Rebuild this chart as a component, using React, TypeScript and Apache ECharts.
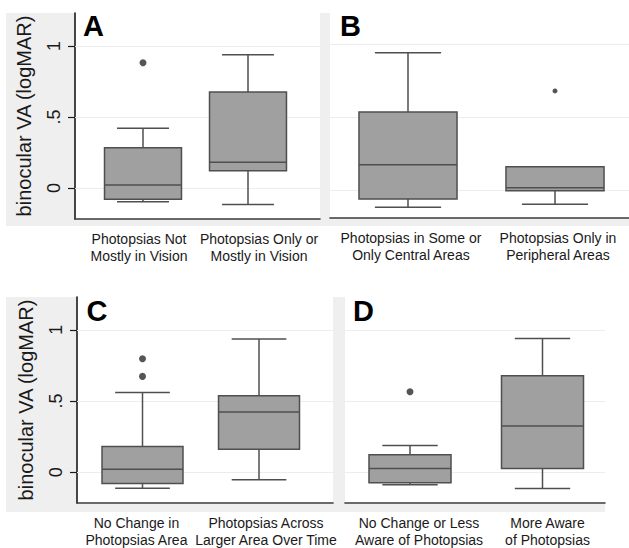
import React, { useEffect, useRef } from "react";
import * as echarts from "echarts";

const FONT = "'Liberation Sans', Arial, Helvetica, sans-serif";

const panelLetters = ["A", "B", "C", "D"];
const categoriesA = ["Photopsias Not\nMostly in Vision", "Photopsias Only or\nMostly in Vision"];
const categoriesB = ["Photopsias in Some or\nOnly Central Areas", "Photopsias Only in\nPeripheral Areas"];
const categoriesC = ["No Change in\nPhotopsias Area", "Photopsias Across\nLarger Area Over Time"];
const categoriesD = ["No Change or Less\nAware of Photopsias", "More Aware\nof Photopsias"];

// [lower whisker, Q1, median, Q3, upper whisker]
const boxesA = [
  [-0.096, -0.08, 0.021, 0.284, 0.42],
  [-0.117, 0.122, 0.181, 0.676, 0.939],
];
const outliersA = [[1, 0.882]];
const boxesB = [
  [-0.119, -0.062, 0.174, 0.535, 0.942],
  [-0.098, -0.005, 0.016, 0.16, 0.16],
];
const outliersB = [[2, 0.68]];
const boxesC = [
  [-0.114, -0.079, 0.021, 0.18, 0.559],
  [-0.054, 0.161, 0.422, 0.536, 0.935],
];
const outliersC = [
  [1, 0.797],
  [1, 0.673],
];
const boxesD = [
  [-0.089, -0.075, 0.025, 0.123, 0.187],
  [-0.115, 0.025, 0.325, 0.677, 0.94],
];
const outliersD = [[1, 0.565]];

const yTickValues = [0, 0.5, 1];
const yTickLabels = ["0", ".5", "1"];
const yAxisTitle = "binocular VA (logMAR)";

// layout (not data)
const panels = [
  {
    letter: panelLetters[0], cats: categoriesA, boxes: boxesA, outliers: outliersA,
    grid: { left: 75, top: 13, width: 245, height: 206 },
    yMin: -0.2183, yMax: 1.2324, xMin: 0.3524, xMax: 2.6857, boxW: 0.733,
    labelPos: [0.962, 2.105], showY: true, dot: 7, lx: 83, ly: 25.5,
  },
  {
    letter: panelLetters[1], cats: categoriesB, boxes: boxesB, outliers: outliersB,
    grid: { left: 330, top: 13, width: 299, height: 205 },
    yMin: -0.1922, yMax: 1.2148, xMin: 0.4694, xMax: 2.5034, boxW: 0.667,
    labelPos: [1.02, 2.02], showY: false, dot: 5, lx: 340, ly: 25.5,
  },
  {
    letter: panelLetters[2], cats: categoriesC, boxes: boxesC, outliers: outliersC,
    grid: { left: 77, top: 297, width: 256, height: 207 },
    yMin: -0.2168, yMax: 1.2308, xMin: 0.4378, xMax: 2.635, boxW: 0.695,
    labelPos: [0.948, 2.06], showY: true, dot: 7, lx: 86.5, ly: 311,
  },
  {
    letter: panelLetters[3], cats: categoriesD, boxes: boxesD, outliers: outliersD,
    grid: { left: 345, top: 297, width: 260, height: 207 },
    yMin: -0.2168, yMax: 1.2308, xMin: 0.5094, xMax: 2.4717, boxW: 0.619,
    labelPos: [1.068, 2.038], showY: false, dot: 7, lx: 353, ly: 311,
  },
];

const BOX_FILL = "#a0a0a0";
const BOX_LINE = "#4f4f4f";
const TEXT = "#1a1a1a";

function buildOption() {
  const grids: any[] = [];
  const xAxes: any[] = [];
  const yAxes: any[] = [];
  const series: any[] = [];

  panels.forEach((p, i) => {
    grids.push({ ...p.grid, show: false, containLabel: false });
    xAxes.push({
      type: "value",
      gridIndex: i,
      min: p.xMin,
      max: p.xMax,
      position: "bottom",
      axisLine: { show: true, onZero: false, lineStyle: { color: "#3a3a3a", width: 1.6 } },
      axisTick: { show: false },
      splitLine: { show: false },
      axisLabel: {
        show: true,
        customValues: p.labelPos,
        formatter: (v: number) => p.cats[Math.round(v) - 1] ?? "",
        fontSize: 14,
        lineHeight: 16.5,
        margin: 12,
        color: TEXT,
        fontFamily: FONT,
      },
    });
    yAxes.push({
      type: "value",
      gridIndex: i,
      min: p.yMin,
      max: p.yMax,
      axisLine: { show: p.showY, lineStyle: { color: TEXT, width: 1.6 } },
      axisTick: {
        show: p.showY,
        length: 7,
        customValues: yTickValues,
        lineStyle: { color: TEXT, width: 1.2 },
      },
      axisLabel: {
        show: p.showY,
        rotate: 90,
        margin: 12,
        fontSize: 18,
        color: TEXT,
        fontFamily: FONT,
        customValues: yTickValues,
        formatter: (v: number) => {
          const k = yTickValues.findIndex((t) => Math.abs(t - v) < 1e-6);
          return k >= 0 ? yTickLabels[k] : "";
        },
      },
      splitLine: { show: false },
      name: p.showY ? yAxisTitle : "",
      nameLocation: "middle",
      nameRotate: 90,
      nameGap: 41,
      nameTextStyle: { fontSize: 20, color: TEXT, fontFamily: FONT },
    });

    series.push({
      type: "scatter",
      xAxisIndex: i,
      yAxisIndex: i,
      data: p.outliers,
      symbol: "circle",
      symbolSize: p.dot,
      itemStyle: { color: "#2b2b2b" },
      z: 2,
      markLine: {
        silent: true,
        symbol: ["none", "none"],
        label: { show: false },
        lineStyle: { color: "#ededed", width: 1.2, type: "solid" },
        data: yTickValues.map((v) => ({ yAxis: v })),
        z: 1,
      },
    });

    const boxW = p.boxW;
    series.push({
      type: "custom",
      xAxisIndex: i,
      yAxisIndex: i,
      z: 3,
      data: p.boxes.map((b, k) => [k + 1, ...b]),
      encode: { x: 0, y: [1, 2, 3, 4, 5] },
      renderItem: (params: any, api: any) => {
        const x = api.value(0);
        const lw = api.value(1);
        const q1 = api.value(2);
        const med = api.value(3);
        const q3 = api.value(4);
        const uw = api.value(5);
        const half = boxW / 2;
        const capHalf = (boxW * 0.675) / 2;
        const pTL = api.coord([x - half, q3]);
        const pBR = api.coord([x + half, q1]);
        const pMed = api.coord([x, med]);
        const yU = api.coord([x, uw])[1];
        const yL = api.coord([x, lw])[1];
        const cl = api.coord([x - capHalf, med])[0];
        const cr = api.coord([x + capHalf, med])[0];
        const xc = pMed[0];
        const ls = { stroke: BOX_LINE, lineWidth: 1.5 };
        return {
          type: "group",
          children: [
            { type: "line", shape: { x1: xc, y1: pTL[1], x2: xc, y2: yU }, style: ls },
            { type: "line", shape: { x1: cl, y1: yU, x2: cr, y2: yU }, style: ls },
            { type: "line", shape: { x1: xc, y1: pBR[1], x2: xc, y2: yL }, style: ls },
            { type: "line", shape: { x1: cl, y1: yL, x2: cr, y2: yL }, style: ls },
            {
              type: "rect",
              shape: { x: pTL[0], y: pTL[1], width: pBR[0] - pTL[0], height: pBR[1] - pTL[1] },
              style: { fill: BOX_FILL, stroke: BOX_LINE, lineWidth: 1.5 },
            },
            { type: "line", shape: { x1: pTL[0], y1: pMed[1], x2: pBR[0], y2: pMed[1] }, style: ls },
          ],
        };
      },
    });
  });

  const graphics: any[] = [
    { type: "rect", z: -2, shape: { x: 6, y: 13, width: 623, height: 213 }, style: { fill: "#efefef" } },
    { type: "rect", z: -2, shape: { x: 6, y: 297, width: 599, height: 215 }, style: { fill: "#efefef" } },
  ];
  panels.forEach((p) => {
    graphics.push({
      type: "rect",
      z: -1,
      shape: { x: p.grid.left, y: p.grid.top, width: p.grid.width, height: p.grid.height },
      style: { fill: "#ffffff" },
    });
    graphics.push({
      type: "text",
      z: 10,
      x: p.lx,
      y: p.ly,
      style: {
        text: p.letter,
        fontSize: 29,
        fontWeight: "bold",
        fontFamily: FONT,
        fill: "#000",
        align: "left",
        verticalAlign: "middle",
      },
    });
  });

  return {
    animation: false,
    backgroundColor: "#ffffff",
    textStyle: { fontFamily: FONT },
    grid: grids,
    xAxis: xAxes,
    yAxis: yAxes,
    series,
    graphic: { elements: graphics },
  };
}

export default function App() {
  const ref = useRef<HTMLDivElement>(null);
  useEffect(() => {
    document.body.style.margin = "0";
    if (!ref.current) return;
    const chart = echarts.init(ref.current, undefined, { renderer: "svg" });
    chart.setOption(buildOption() as any);
    return () => chart.dispose();
  }, []);
  return (
    <div
      ref={ref}
      style={{ position: "absolute", left: 0, top: 0, width: 629, height: 548, background: "#fff" }}
    />
  );
}
